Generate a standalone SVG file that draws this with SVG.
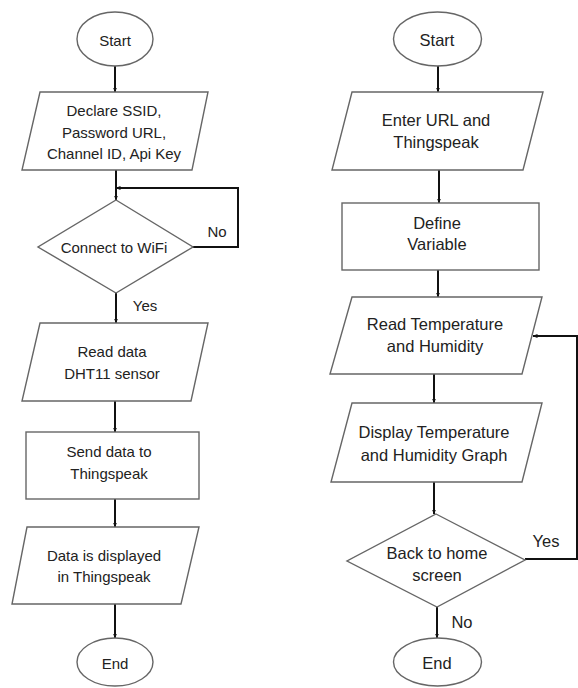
<svg xmlns="http://www.w3.org/2000/svg" width="578" height="688" viewBox="0 0 578 688">
<defs>
<marker id="ah" viewBox="0 0 10 10" refX="9" refY="5" markerWidth="5" markerHeight="5" orient="auto" markerUnits="userSpaceOnUse">
<path d="M0,1 L10,5 L0,9 z" fill="#111"/>
</marker>
<style>
.s{fill:#fff;stroke:#666;stroke-width:1.4}
.t{font-family:"Liberation Sans",Arial,sans-serif;font-size:15px;fill:#222;text-anchor:middle;dominant-baseline:central}
.r{font-size:16.5px}
.c{fill:none;stroke:#111;stroke-width:2;marker-end:url(#ah)}
</style>
</defs>
<rect width="578" height="688" fill="#fff"/>
<g id="connectors">
<line class="c" x1="115" y1="66" x2="115" y2="92"/>
<line class="c" x1="116" y1="170" x2="116" y2="200"/>
<polyline class="c" points="193,247 238,247 238,188 116,188"/>
<line class="c" x1="116" y1="293" x2="116" y2="323"/>
<line class="c" x1="115" y1="401" x2="115" y2="432"/>
<line class="c" x1="115" y1="499" x2="115" y2="527"/>
<line class="c" x1="115" y1="604" x2="115" y2="638"/>
<line class="c" x1="438" y1="66" x2="438" y2="92"/>
<line class="c" x1="439" y1="170" x2="439" y2="203"/>
<line class="c" x1="438" y1="270" x2="438" y2="297"/>
<line class="c" x1="434" y1="374" x2="434" y2="403"/>
<line class="c" x1="434" y1="482" x2="434" y2="514"/>
<polyline class="c" points="525,559 577,559 577,336 533,336"/>
<line class="c" x1="437" y1="607" x2="437" y2="638"/>
</g>
<g id="start1"><ellipse class="s" cx="115" cy="39" rx="38" ry="27"/><text class="t" x="115" y="40">Start</text></g>
<g id="declare"><polygon class="s" points="40,92 208,92 192,170 22,170"/><text class="t" x="114" y="110">Declare SSID,</text><text class="t" x="114" y="132">Password URL,</text><text class="t" x="114" y="153">Channel ID, Api Key</text></g>
<g id="wifi"><polygon class="s" points="116,200 193,247 116,293 38,247"/><text class="t" x="114" y="247">Connect to WiFi</text></g>
<g id="lbl-no1"><text class="t" x="217" y="231">No</text></g>
<g id="lbl-yes1"><text class="t" x="145" y="305">Yes</text></g>
<g id="readdata"><polygon class="s" points="40,323 208,323 191,401 22,401"/><text class="t" x="112" y="351">Read data</text><text class="t" x="112" y="373">DHT11 sensor</text></g>
<g id="send"><rect class="s" x="26" y="432" width="173" height="67"/><text class="t" x="109" y="451">Send data to</text><text class="t" x="109" y="473">Thingspeak</text></g>
<g id="displayed"><polygon class="s" points="27,527 199,527 181,604 12,604"/><text class="t" x="104" y="555">Data is displayed</text><text class="t" x="104" y="576">in Thingspeak</text></g>
<g id="end1"><ellipse class="s" cx="115" cy="662" rx="38" ry="24"/><text class="t" x="115" y="663">End</text></g>
<g id="start2"><ellipse class="s" cx="437.5" cy="39" rx="44" ry="27"/><text class="t r" x="437" y="40">Start</text></g>
<g id="enterurl"><polygon class="s" points="352,92 543,92 523,170 332,170"/><text class="t r" x="436" y="120">Enter URL and</text><text class="t r" x="436" y="142">Thingspeak</text></g>
<g id="define"><rect class="s" x="342" y="203" width="197" height="67"/><text class="t r" x="437" y="223">Define</text><text class="t r" x="437" y="244">Variable</text></g>
<g id="readtemp"><polygon class="s" points="352,297 542,297 522,374 330,374"/><text class="t r" x="435" y="324">Read Temperature</text><text class="t r" x="435" y="346">and Humidity</text></g>
<g id="displaytemp"><polygon class="s" points="352,403 542,403 522,482 331,482"/><text class="t r" x="434" y="432">Display Temperature</text><text class="t r" x="434" y="455">and Humidity Graph</text></g>
<g id="backhome"><polygon class="s" points="436,514 525,560 437,607 347,561"/><text class="t r" x="437" y="553">Back to home</text><text class="t r" x="437" y="575">screen</text></g>
<g id="lbl-yes2"><text class="t r" x="546" y="541">Yes</text></g>
<g id="lbl-no2"><text class="t r" x="462" y="622">No</text></g>
<g id="end2"><ellipse class="s" cx="437.5" cy="662" rx="44" ry="24"/><text class="t r" x="437" y="663">End</text></g>
</svg>
